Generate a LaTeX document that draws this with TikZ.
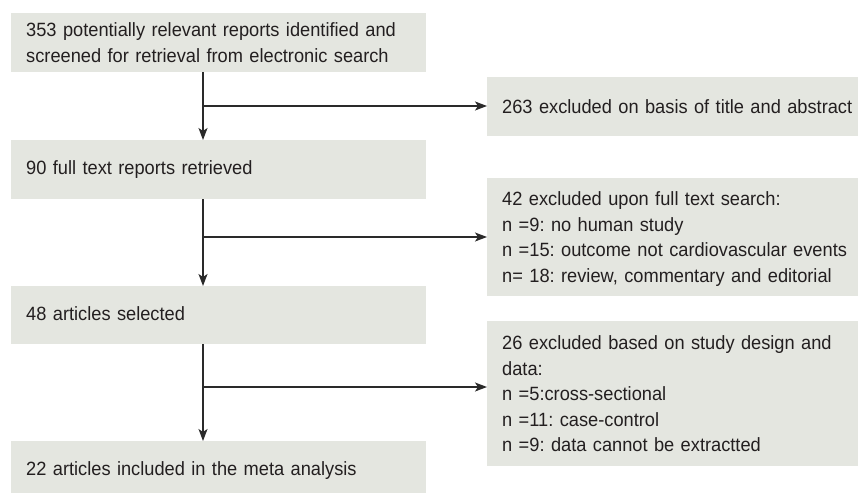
\documentclass[tikz,border=0pt]{standalone}
\usepackage{fontspec}
\setmainfont{Liberation Sans}[FakeStretch=0.95]
\usetikzlibrary{arrows.meta}
\definecolor{boxfill}{HTML}{E4E6E0}
\definecolor{txtcol}{HTML}{231F20}
\definecolor{lncol}{HTML}{2A2A2A}
\frenchspacing
\begin{document}
\begin{tikzpicture}[x=1pt,y=-1pt,
 box/.style={fill=boxfill, draw=none, anchor=north west, text=txtcol, align=left, inner xsep=15pt, inner ysep=0pt, font=\fontsize{19.2}{25.5}\selectfont},
 lbox/.style={box, minimum width=415pt, text width=385pt},
 rbox/.style={box, minimum width=400pt, text width=370pt},
 arr/.style={draw=lncol, line width=1.3pt, -{Stealth[length=12pt,width=9pt,inset=3pt]}},
 plain/.style={draw=lncol, line width=1.3pt}]
\useasboundingbox (0,0) rectangle (858,492);
\node[lbox, minimum height=59pt] (b1) at (11,13) {353 potentially relevant reports identified and\\screened for retrieval from electronic search};
\node[rbox, minimum height=59pt] (r1) at (487,77) {263 excluded on basis of title and abstract};
\node[lbox, minimum height=59pt] (b2) at (11,140) {\strut90 full text reports retrieved};
\node[rbox, minimum height=118pt] (r2) at (487,178) {\strut42 excluded upon full text search:\\n =9: no human study\\n =15: outcome not cardiovascular events\\n= 18: review, commentary and editorial};
\node[lbox, minimum height=58pt] (b3) at (11,286) {\strut48 articles selected};
\node[rbox, minimum height=145pt] (r3) at (487,321) {26 excluded based on study design and\\data:\\n =5:cross-sectional\\n =11: case-control\\n =9: data cannot be extractted};
\node[lbox, minimum height=59pt] (b4) at (11,441) {\strut22 articles included in the meta analysis};
\coordinate (sx) at (203,0);
\coordinate (j1) at (203,106);
\coordinate (j2) at (203,237);
\coordinate (j3) at (203,387);
\draw[arr] (b1.south -| sx) -- (b2.north -| sx);
\draw[arr] (b2.south -| sx) -- (b3.north -| sx);
\draw[arr] (b3.south -| sx) -- (b4.north -| sx);
\draw[arr] (j1) -- (j1 -| r1.west);
\draw[arr] (j2) -- (j2 -| r2.west);
\draw[arr] (j3) -- (j3 -| r3.west);
\end{tikzpicture}
\end{document}
